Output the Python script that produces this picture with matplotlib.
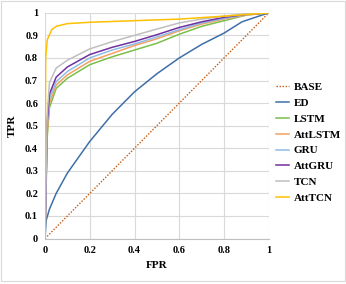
import matplotlib
matplotlib.use("Agg")
import matplotlib.pyplot as plt
from matplotlib.patches import Rectangle

labels = ["BASE", "ED", "LSTM", "AttLSTM", "GRU", "AttGRU", "TCN", "AttTCN"]
colors = ["#C55A11", "#3E6FA8", "#7BBF4A", "#F4A15F", "#8FBCE6", "#7030A0", "#BFBFBF", "#FFC000"]

base_x = [0, 1]
base_y = [0, 1]
ed_x = [0, 0.005, 0.02, 0.05, 0.1, 0.2, 0.3, 0.4, 0.5, 0.6, 0.7, 0.8, 0.88, 1]
ed_y = [0, 0.08, 0.13, 0.2, 0.29, 0.43, 0.55, 0.65, 0.73, 0.8, 0.86, 0.91, 0.96, 1]
lstm_x = [0, 0.01, 0.02, 0.05, 0.1, 0.2, 0.3, 0.4, 0.5, 0.6, 0.7, 0.8, 0.9, 1]
lstm_y = [0, 0.45, 0.58, 0.665, 0.71, 0.77, 0.805, 0.835, 0.865, 0.905, 0.94, 0.965, 0.99, 1]
attlstm_y = [0, 0.47, 0.6, 0.68, 0.725, 0.785, 0.82, 0.855, 0.885, 0.92, 0.95, 0.972, 0.99, 1]
gru_y = [0, 0.5, 0.62, 0.695, 0.74, 0.8, 0.835, 0.862, 0.893, 0.925, 0.955, 0.975, 0.992, 1]
attgru_y = [0, 0.52, 0.64, 0.715, 0.76, 0.815, 0.847, 0.873, 0.903, 0.935, 0.96, 0.98, 0.993, 1]
tcn_y = [0, 0.55, 0.69, 0.755, 0.79, 0.84, 0.872, 0.9, 0.928, 0.955, 0.972, 0.985, 0.995, 1]
atttcn_x = [0, 0.003, 0.01, 0.03, 0.05, 0.1, 0.2, 0.4, 0.6, 0.8, 1]
atttcn_y = [0, 0.8, 0.88, 0.925, 0.94, 0.952, 0.958, 0.965, 0.972, 0.985, 1]

series = [(base_x, base_y), (ed_x, ed_y), (lstm_x, lstm_y), (lstm_x, attlstm_y),
          (lstm_x, gru_y), (lstm_x, attgru_y), (lstm_x, tcn_y), (atttcn_x, atttcn_y)]

plt.rcParams['font.family'] = ['Liberation Serif', 'DejaVu Serif']
fig = plt.figure(figsize=(3.46, 2.84), dpi=100)
ax = fig.add_axes([0.130, 0.160, 0.647, 0.795])

for i, ((x, y), lab, c) in enumerate(zip(series, labels, colors)):
    if lab == "BASE":
        ax.plot(x, y, color=c, lw=1.0, ls=(0, (1, 1.2)), label=lab)
    else:
        ax.plot(x, y, color=c, lw=1.1, label=lab)

ax.set_xlim(0, 1)
ax.set_ylim(0, 1)
ax.set_xticks([0, 0.2, 0.4, 0.6, 0.8, 1])
ax.set_xticklabels(["0", "0.2", "0.4", "0.6", "0.8", "1"])
ax.set_yticks([i / 10 for i in range(11)])
ax.set_yticklabels(["0", "0.1", "0.2", "0.3", "0.4", "0.5", "0.6", "0.7", "0.8", "0.9", "1"])
ax.grid(True, color="#D9D9D9", lw=0.8)
ax.set_axisbelow(True)
for s in ["top", "right", "left"]:
    ax.spines[s].set_visible(False)
ax.spines["bottom"].set_color("#BFBFBF")
ax.tick_params(length=0, labelsize=7.5, pad=5)
for t in ax.get_xticklabels() + ax.get_yticklabels():
    t.set_fontweight("bold")
ax.set_xlabel("FPR", fontsize=8, fontweight="bold", labelpad=5)
ax.set_ylabel("TPR", fontsize=8, fontweight="bold", labelpad=6)

leg = ax.legend(loc="center left", bbox_to_anchor=(1.0, 0.425), frameon=False,
                fontsize=8, handlelength=1.2, handletextpad=0.45, labelspacing=0.55,
                borderaxespad=0.2)
for t in leg.get_texts():
    t.set_fontweight("bold")

fig.patches.append(Rectangle((0.004, 0.01), 0.992, 0.985, transform=fig.transFigure,
                             fill=False, edgecolor="#D9D9D9", lw=0.8))
fig.savefig("out.png", dpi=100)
